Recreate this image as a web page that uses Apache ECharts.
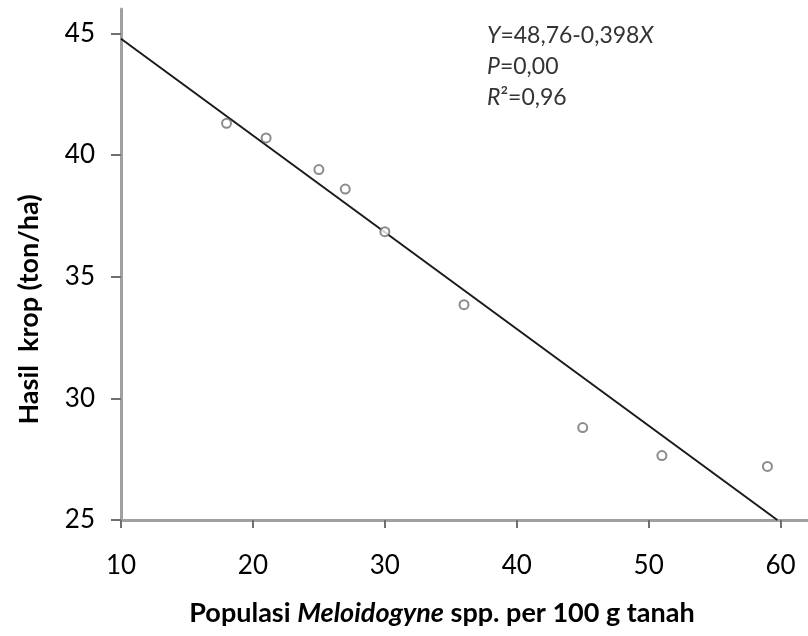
<!DOCTYPE html>
<html>
<head>
<meta charset="utf-8">
<script src="https://cdn.jsdelivr.net/npm/echarts@6/dist/echarts.min.js"></script>
<style>
  html, body { margin: 0; padding: 0; background: #fff; }
  #chart { width: 808px; height: 636px; }
</style>
</head>
<body>
<div id="chart"></div>
<script>
// observed points: population (per 100 g soil) vs crop yield (ton/ha)
const popValues = [18, 21, 25, 27, 30, 36, 45, 51, 59];
const yieldValues = [41.3, 40.7, 39.4, 38.6, 36.85, 33.85, 28.8, 27.65, 27.2];

// fitted line Y = 48.76 - 0.398X, drawn between its two end points
const fitX = [10, 59.75];
const fitY = [44.78, 25];

const xTicks = [10, 20, 30, 40, 50, 60];
const yTicks = [25, 30, 35, 40, 45];

const fontFamily = 'Lato, "Noto Sans", sans-serif';

const chart = echarts.init(document.getElementById('chart'), null, { renderer: 'canvas' });

const option = {
  backgroundColor: '#fff',
  animation: false,
  grid: { left: 121, right: 1, top: 9, bottom: 116 },
  xAxis: {
    type: 'value',
    min: 10,
    max: 62,
    name: 'Populasi {i|Meloidogyne} spp. per 100 g tanah',
    nameLocation: 'middle',
    nameGap: 80,
    nameTextStyle: {
      color: '#000',
      fontFamily: fontFamily,
      fontSize: 27,
      fontWeight: 'bold',
      padding: [0, 44, 0, 0],
      rich: {
        i: { fontFamily: fontFamily, fontSize: 27, fontWeight: 'bold', fontStyle: 'italic', color: '#000' }
      }
    },
    axisLine: { show: true, lineStyle: { color: '#a0a0a0', width: 3 } },
    axisTick: { show: true, length: 8, customValues: xTicks, lineStyle: { color: '#707070', width: 2 } },
    axisLabel: { customValues: xTicks, color: '#000', fontFamily: fontFamily, fontSize: 26, margin: 33 },
    splitLine: { show: false }
  },
  yAxis: {
    type: 'value',
    min: 25,
    max: 46,
    name: 'Hasil  krop (ton/ha)',
    nameLocation: 'middle',
    nameGap: 78,
    nameRotate: 90,
    nameTextStyle: {
      color: '#000',
      fontFamily: fontFamily,
      fontSize: 27,
      fontWeight: 'bold',
      padding: [0, 90, 0, 0]
    },
    axisLine: { show: true, lineStyle: { color: '#a0a0a0', width: 3 } },
    axisTick: { show: true, length: 10, customValues: yTicks, lineStyle: { color: '#707070', width: 2 } },
    axisLabel: { customValues: yTicks, color: '#000', fontFamily: fontFamily, fontSize: 26, margin: 26 },
    splitLine: { show: false }
  },
  graphic: [
    {
      type: 'text',
      left: 487,
      top: 20,
      style: {
        text: '{i|Y}=48,76-0,398{i|X}\n{i|P}=0,00\n{i|R}²=0,96',
        fontFamily: fontFamily,
        fontSize: 23,
        lineHeight: 31,
        fill: '#333',
        rich: {
          i: { fontFamily: fontFamily, fontSize: 23, fontStyle: 'italic', fill: '#333', lineHeight: 31 }
        }
      }
    }
  ],
  series: [
    {
      type: 'line',
      data: fitX.map((x, i) => [x, fitY[i]]),
      symbol: 'none',
      lineStyle: { color: '#1a1a1a', width: 2 },
      z: 2
    },
    {
      type: 'scatter',
      data: popValues.map((x, i) => [x, yieldValues[i]]),
      symbol: 'circle',
      symbolSize: 9,
      itemStyle: { color: '#fff', borderColor: '#6e6e6e', borderWidth: 2 },
      z: 3
    }
  ]
};

chart.setOption(option);
</script>
</body>
</html>
